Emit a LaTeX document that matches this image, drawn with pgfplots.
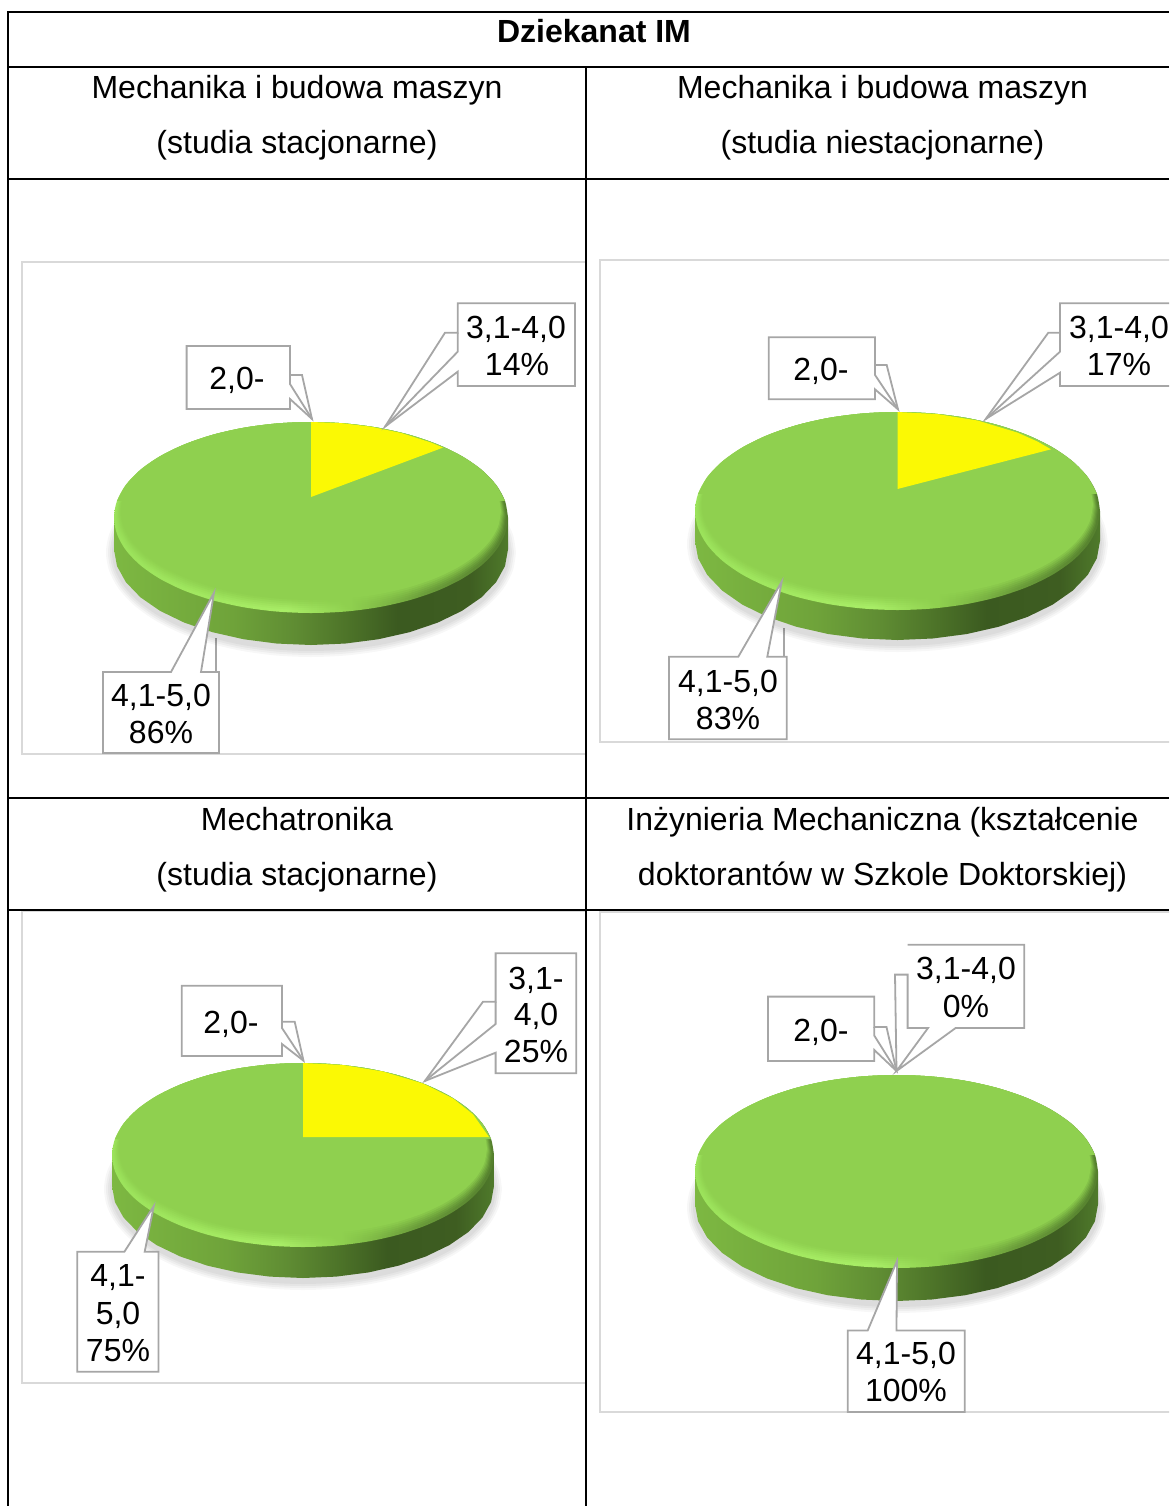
\documentclass[border=0pt]{standalone}
\usepackage{fontspec}
\setmainfont{Liberation Sans}
\usepackage{pgfplots}
\usepackage{pgfplotstable}
\pgfplotsset{compat=1.18}
\definecolor{flat}{HTML}{8FD04F}
\definecolor{frame}{HTML}{D9D9D9}
\definecolor{callb}{HTML}{A6A6A6}
\definecolor{wedge}{HTML}{FBF904}
\pgfdeclarehorizontalshading{pieside}{100bp}{
  color(0bp)=(rgb,255:red,125;green,184;blue,66);
  color(25bp)=(rgb,255:red,125;green,184;blue,66);
  color(40bp)=(rgb,255:red,111;green,163;blue,58);
  color(48bp)=(rgb,255:red,95;green,140;blue,51);
  color(55bp)=(rgb,255:red,76;green,114;blue,40);
  color(61bp)=(rgb,255:red,59;green,90;blue,32);
  color(70bp)=(rgb,255:red,62;green,93;blue,33);
  color(75bp)=(rgb,255:red,79;green,122;blue,43);
  color(100bp)=(rgb,255:red,79;green,122;blue,43)}
\pgfdeclarehorizontalshading{piebevel}{100bp}{
  color(0bp)=(rgb,255:red,155;green,226;blue,91);
  color(25bp)=(rgb,255:red,155;green,226;blue,91);
  color(40bp)=(rgb,255:red,164;green,234;blue,98);
  color(47bp)=(rgb,255:red,168;green,237;blue,102);
  color(55bp)=(rgb,255:red,143;green,208;blue,79);
  color(65bp)=(rgb,255:red,106;green,156;blue,58);
  color(75bp)=(rgb,255:red,85;green,128;blue,46);
  color(100bp)=(rgb,255:red,85;green,128;blue,46)}
% unit circle, 10 degree steps
\pgfplotstableread{
x y
1 0
0.9848 0.1736
0.9397 0.3420
0.8660 0.5
0.7660 0.6428
0.6428 0.7660
0.5 0.8660
0.3420 0.9397
0.1736 0.9848
0 1
-0.1736 0.9848
-0.3420 0.9397
-0.5 0.8660
-0.6428 0.7660
-0.7660 0.6428
-0.8660 0.5
-0.9397 0.3420
-0.9848 0.1736
-1 0
-0.9848 -0.1736
-0.9397 -0.3420
-0.8660 -0.5
-0.7660 -0.6428
-0.6428 -0.7660
-0.5 -0.8660
-0.3420 -0.9397
-0.1736 -0.9848
0 -1
0.1736 -0.9848
0.3420 -0.9397
0.5 -0.8660
0.6428 -0.7660
0.7660 -0.6428
0.8660 -0.5
0.9397 -0.3420
0.9848 -0.1736
1 0
}\unitcircle
% upper part of the rim, kept free of the bevel
\pgfplotstableread{
x y
-0.9848 -0.1736
-0.9397 -0.3420
-0.8660 -0.5
-0.7660 -0.6428
-0.6428 -0.7660
-0.5 -0.8660
-0.3420 -0.9397
-0.1736 -0.9848
0 -1
0.1736 -0.9848
0.3420 -0.9397
0.5 -0.8660
0.6428 -0.7660
0.7660 -0.6428
0.8660 -0.5
0.9397 -0.3420
0.9848 -0.1736
}\upperrim
% side wall of the disc: lower arc at depth, closed at the top level
\pgfplotstableread{
x y d
-1 0 1
-0.9848 0.1736 1
-0.9397 0.3420 1
-0.8660 0.5 1
-0.7660 0.6428 1
-0.6428 0.7660 1
-0.5 0.8660 1
-0.3420 0.9397 1
-0.1736 0.9848 1
0 1 1
0.1736 0.9848 1
0.3420 0.9397 1
0.5 0.8660 1
0.6428 0.7660 1
0.7660 0.6428 1
0.8660 0.5 1
0.9397 0.3420 1
0.9848 0.1736 1
1 0 1
1 0 0
-1 0 0
}\sidewall
% #1 cx, #2 cy, #3 rx, #4 ry, #5 fill options
\newcommand\Ell[5]{\addplot[draw=none,forget plot,mark=none,smooth,#5] table[x expr=#1+(#3)*\thisrow{x}, y expr=(#2)+(#4)*\thisrow{y}] {\unitcircle};}
% #1 cx, #2 cy, #3 rx, #4 ry, #5 depth
\newcommand\Disc[5]{%
  \Ell{#1}{#2+#5+3}{#3+8}{#4+9}{fill=black,fill opacity=.03}
  \Ell{#1}{#2+#5+3}{#3+6}{#4+7}{fill=black,fill opacity=.035}
  \Ell{#1}{#2+#5+3}{#3+4}{#4+5}{fill=black,fill opacity=.04}
  \Ell{#1}{#2+#5+3}{#3+2}{#4+3}{fill=black,fill opacity=.04}
  \addplot[draw=none,forget plot,mark=none,shade,shading=pieside] table[x expr=#1+(#3)*\thisrow{x}, y expr=(#2)+(#4)*\thisrow{y}+(#5)*\thisrow{d}] {\sidewall};
  \Ell{#1}{#2}{#3}{#4}{shade,shading=piebevel}
  \addplot[draw=none,forget plot,mark=none,smooth,fill=flat] table[x expr=#1+(#3)*\thisrow{x}, y expr=(#2)+(#4)*\thisrow{y}] {\upperrim};
  \Ell{#1}{#2-1.5}{#3-2}{#4-1.5}{fill=flat,fill opacity=.12}
  \Ell{#1}{#2-2.5}{#3-3}{#4-2.5}{fill=flat,fill opacity=.18}
  \Ell{#1}{#2-3.5}{#3-4}{#4-3.5}{fill=flat,fill opacity=.25}
  \Ell{#1}{#2-4.5}{#3-5}{#4-4.5}{fill=flat,fill opacity=.35}
  \Ell{#1}{#2-5.5}{#3-6}{#4-5.5}{fill=flat,fill opacity=.5}
  \Ell{#1}{#2-6.5}{#3-7}{#4-6.5}{fill=flat}
}
\tikzset{
  lab/.style={anchor=base,inner sep=0pt,font=\fontsize{16}{19}\selectfont,text=black},
  call/.style={draw=callb,fill=white,line width=.9pt,line join=miter},
  callin/.style={draw=callb,line width=.9pt},
  frm/.style={draw=frame,line width=1pt},
  tbl/.style={draw=black,line width=1pt}
}
\begin{document}
\begin{tikzpicture}
\begin{axis}[
  at={(0,0)},anchor=south west,scale only axis,
  width=584.5pt,height=753pt,
  xmin=0,xmax=1169,ymin=0,ymax=1506,y dir=reverse,
  axis lines=none,ticks=none,no markers,clip=true]
% chart frames
\draw[frm] (22,262)--(586,262)--(586,754)--(22,754)--cycle;
\draw[frm] (1180,260)--(600,260)--(600,741.5)--(1180,741.5);
\draw[frm] (22,911)--(586,911)--(586,1383)--(22,1383)--cycle;
\draw[frm] (1180,912)--(600,912)--(600,1412)--(1180,1412);
% pointer lines passing behind the discs
\draw[callin] (216,638)--(216,672);
\draw[callin] (784,628)--(784,657);
% discs
\Disc{311}{517.5}{197}{95.5}{32}
\addplot[fill=wedge,draw=none,forget plot] coordinates {(311,497)(311,422)(341,423.1)(371,426.7)(401,432.9)(431,442.5)(443,447.6)};
\Disc{897.5}{511}{202.5}{99}{30}
\addplot[fill=wedge,draw=none,forget plot] coordinates {(897.5,489)(897.5,412)(937.5,414.1)(977.5,420.5)(1017.5,432.6)(1037.5,441.5)(1051,449.3)};
\Disc{303}{1155}{191}{92}{31}
\addplot[fill=wedge,draw=none,forget plot] coordinates {(303,1137)(303,1063)(343,1065)(383,1071.5)(423,1083.5)(453,1098.4)(473,1114.3)(489,1137)};
\Disc{896.5}{1171.5}{201.5}{96.5}{33}
% callouts, chart 1
\draw[call] (186.6,346)--(290,346)--(290,375)--(302,375)--(312,419)--(290,399)--(290,409)--(186.6,409)--cycle;
\draw[callin] (290,375)--(290,384)--(312,419);
\draw[call] (457.7,303.3)--(575,303.3)--(575,386)--(457.7,386)--(457.7,371.7)--(385,426.7)--(445,332.7)--(457.7,332.7)--cycle;
\draw[callin] (457.7,332.7)--(457.7,351.7)--(385,426.7);
\draw[call] (103,672)--(171,672)--(214,592.7)--(201,672)--(219,672)--(219,753)--(103,753)--cycle;
% callouts, chart 2
\draw[call] (768.7,337.3)--(875,337.3)--(875,365)--(886.7,365)--(898,409.3)--(875,389.3)--(875,399.3)--(768.7,399.3)--cycle;
\draw[callin] (875,365)--(875,375)--(898,409.3);
\draw[call] (1180,303.3)--(1060,303.3)--(1060,332.7)--(1048.3,332.7)--(985.7,419)--(1060,372.7)--(1060,386)--(1180,386);
\draw[callin] (1060,332.7)--(1060,351.7)--(985.7,419);
\draw[call] (669,656.7)--(738.3,656.7)--(781.7,581.7)--(767.3,656.7)--(786.7,656.7)--(786.7,739.3)--(669,739.3)--cycle;
% callouts, chart 3
\draw[call] (181.8,985.7)--(282,985.7)--(282,1021.7)--(294.7,1021.7)--(303.5,1060.7)--(282,1044)--(282,1056)--(181.8,1056)--cycle;
\draw[callin] (282,1021.7)--(282,1028)--(303.5,1060.7);
\draw[call] (495.6,953.3)--(576.3,953.3)--(576.3,1073.3)--(495.6,1073.3)--(495.6,1052.7)--(424.8,1081)--(483,1001.7)--(495.6,1001.7)--cycle;
\draw[callin] (495.6,1001.7)--(495.6,1024)--(424.8,1081);
\draw[call] (77.3,1251.7)--(124.4,1251.7)--(153.8,1206)--(144.7,1251.7)--(158.4,1251.7)--(158.4,1371.7)--(77.3,1371.7)--cycle;
% callouts, chart 4
\draw[call] (768,996.6)--(874.3,996.6)--(874.3,1027)--(886.5,1027)--(896.5,1071)--(874.3,1050)--(874.3,1061)--(768,1061)--cycle;
\draw[callin] (874.3,1027)--(874.3,1035.6)--(896.5,1071);
\draw[call] (907.6,944.7)--(1024.3,944.7)--(1024.3,1028)--(955.6,1028)--(896.5,1071)--(928,1028)--(907.6,1028)--(907.6,974.6)--(895,974.6)--(896.5,1071);
\draw[call] (847.8,1330.5)--(867.7,1330.5)--(897,1261)--(896.5,1330.5)--(964.8,1330.5)--(964.8,1412)--(847.8,1412)--cycle;
% table rules
\draw[tbl] (8,1506)--(8,12)--(1169,12);
\draw[tbl] (8,67)--(1169,67);
\draw[tbl] (8,179)--(1169,179);
\draw[tbl] (8,798)--(1169,798);
\draw[tbl] (8,910)--(1169,910);
\draw[tbl] (586,67)--(586,1506);
% table text
\node[lab,font=\fontsize{16}{19}\selectfont\bfseries] at (594,42) {Dziekanat IM};
\node[lab] at (297,98) {Mechanika i budowa maszyn};
\node[lab] at (297,153) {(studia stacjonarne)};
\node[lab] at (882.5,98) {Mechanika i budowa maszyn};
\node[lab] at (882.5,153) {(studia niestacjonarne)};
\node[lab] at (297,830) {Mechatronika};
\node[lab] at (297,885) {(studia stacjonarne)};
\node[lab] at (882.5,830) {Inżynieria Mechaniczna (kształcenie};
\node[lab] at (882.5,885) {doktorantów w Szkole Doktorskiej)};
% data labels
\node[lab] at (237,389.5) {2,0-};
\node[lab] at (516,338) {3,1-4,0};
\node[lab] at (517,375) {14\%};
\node[lab] at (161,706) {4,1-5,0};
\node[lab] at (161,743.5) {86\%};
\node[lab] at (821,380.5) {2,0-};
\node[lab] at (1119,338) {3,1-4,0};
\node[lab] at (1119,375.5) {17\%};
\node[lab] at (728,692.5) {4,1-5,0};
\node[lab] at (728,729.5) {83\%};
\node[lab] at (231,1033.5) {2,0-};
\node[lab] at (536,989.5) {3,1-};
\node[lab] at (536,1025.5) {4,0};
\node[lab] at (536,1062.5) {25\%};
\node[lab] at (118,1286.5) {4,1-};
\node[lab] at (118,1324.5) {5,0};
\node[lab] at (118,1361.5) {75\%};
\node[lab] at (821,1041.5) {2,0-};
\node[lab] at (966,979.5) {3,1-4,0};
\node[lab] at (966,1017.5) {0\%};
\node[lab] at (906,1364.5) {4,1-5,0};
\node[lab] at (906,1401.5) {100\%};
\end{axis}
\pgfresetboundingbox
\path[use as bounding box] (0,0) rectangle (584.5pt,753pt);
\end{tikzpicture}
\end{document}
